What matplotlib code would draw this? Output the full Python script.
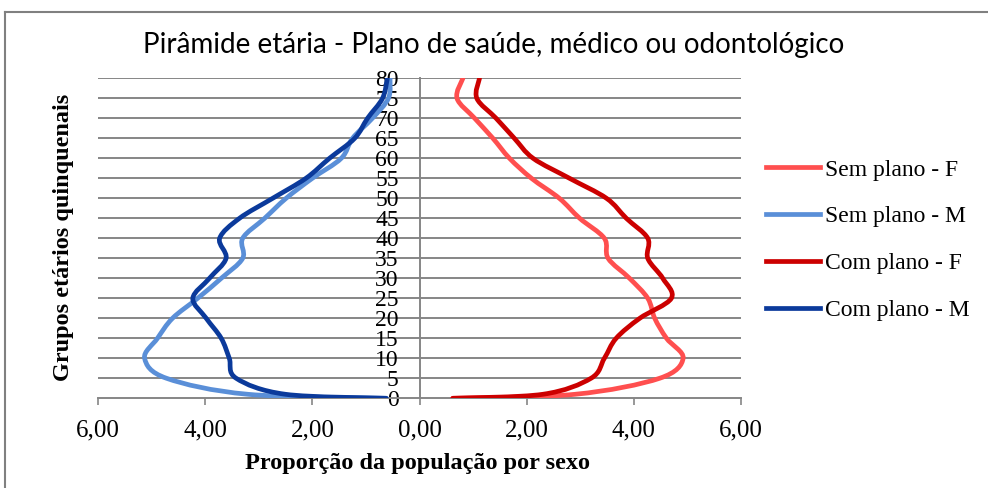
import matplotlib
matplotlib.use("Agg")
import matplotlib.pyplot as plt
from matplotlib.path import Path
from matplotlib.patches import PathPatch
from matplotlib.lines import Line2D

# grupos etarios (menor de 1 ano, 1 a 4 anos, depois quinquenais)
idades = [0, 1, 5, 10, 15, 20, 25, 30, 35, 40, 45, 50, 55, 60, 65, 70, 75, 80]

# proporcao da populacao por sexo (%)
sem_plano_f = [0.62, 2.90, 4.48, 4.92, 4.61, 4.39, 4.26, 3.92, 3.52, 3.45, 2.99, 2.61, 2.09, 1.68, 1.37, 1.03, 0.70, 0.81]
sem_plano_m = [0.62, 3.20, 4.72, 5.13, 4.89, 4.61, 4.14, 3.70, 3.30, 3.30, 2.89, 2.49, 2.00, 1.46, 1.25, 0.88, 0.58, 0.55]
com_plano_f = [0.62, 2.30, 3.20, 3.45, 3.67, 4.11, 4.70, 4.54, 4.26, 4.26, 3.86, 3.49, 2.80, 2.12, 1.77, 1.43, 1.07, 1.12]
com_plano_m = [0.62, 2.50, 3.42, 3.55, 3.70, 3.98, 4.23, 3.92, 3.61, 3.73, 3.36, 2.74, 2.12, 1.68, 1.21, 0.97, 0.69, 0.60]

series = [
    ("Sem plano - F", sem_plano_f, 1, "#FF4F4F"),
    ("Sem plano - M", sem_plano_m, -1, "#5A8FD8"),
    ("Com plano - F", com_plano_f, 1, "#CC0000"),
    ("Com plano - M", com_plano_m, -1, "#0B3A9B"),
]

x_ticks = [-6, -4, -2, 0, 2, 4, 6]
x_labels = ["6,00", "4,00", "2,00", "0,00", "2,00", "4,00", "6,00"]
y_ticks = list(range(0, 81, 5))

serif = "Liberation Serif"


def smooth_path(xs, ys):
    # linha suavizada no estilo do Excel (bezier com tangentes de vizinhos)
    pts = list(zip(xs, ys))
    n = len(pts)
    verts = [pts[0]]
    codes = [Path.MOVETO]
    for i in range(n - 1):
        p0 = pts[i - 1] if i > 0 else pts[i]
        p1 = pts[i]
        p2 = pts[i + 1]
        p3 = pts[i + 2] if i + 2 < n else pts[i + 1]
        b1 = (p1[0] + (p2[0] - p0[0]) / 6, p1[1] + (p2[1] - p0[1]) / 6)
        b2 = (p2[0] - (p3[0] - p1[0]) / 6, p2[1] - (p3[1] - p1[1]) / 6)
        verts += [b1, b2, p2]
        codes += [Path.CURVE4] * 3
    return Path(verts, codes)


fig = plt.figure(figsize=(9.88, 4.88), dpi=100)
ax = fig.add_axes([98 / 988, 1 - 398.3 / 488, 643 / 988, 320 / 488])

grid_c = "#868686"
for y in y_ticks[1:]:
    ax.axhline(y, color=grid_c, lw=1.4, zorder=1)

handles = []
for nome, vals, lado, cor in series:
    xs = [lado * v for v in vals]
    patch = PathPatch(smooth_path(xs, idades), fill=False, edgecolor=cor, lw=3.4,
                      capstyle="round", joinstyle="round", zorder=3)
    ax.add_patch(patch)
    handles.append(Line2D([], [], color=cor, lw=3.4, label=nome))

ax.set_xlim(-6, 6)
ax.set_ylim(0, 80)

for s in ["top", "right"]:
    ax.spines[s].set_visible(False)
ax.spines["left"].set_position(("data", 0))
ax.spines["left"].set_color(grid_c)
ax.spines["left"].set_linewidth(1.4)
ax.spines["bottom"].set_color(grid_c)
ax.spines["bottom"].set_linewidth(1.4)

ax.set_xticks(x_ticks)
ax.set_xticklabels(x_labels, fontfamily=serif, fontsize=18)
ax.tick_params(axis="x", length=5, width=1.2, color=grid_c, pad=10)
ax.set_yticks(y_ticks)
ax.set_yticklabels([str(v) for v in y_ticks], fontfamily=serif, fontsize=17)
ax.tick_params(axis="y", length=0, pad=15)

fig.text(0.5, 1 - 45 / 488, "Pirâmide etária - Plano de saúde, médico ou odontológico",
         ha="center", va="center", fontsize=20, fontfamily="Lato")
fig.text(417 / 988, 1 - 464 / 488, "Proporção da população por sexo",
         ha="center", va="center", fontsize=17.5, fontweight="bold", fontfamily=serif)
fig.text(63 / 988, 1 - 237 / 488, "Grupos etários quinquenais", rotation=90,
         ha="center", va="center", fontsize=17.5, fontweight="bold", fontfamily=serif)

fig.legend(handles=handles, loc="upper left", bbox_to_anchor=(766 / 988, 1 - 159 / 488),
           frameon=False, prop={"family": serif, "size": 17}, handlelength=2.3,
           handletextpad=0.2, labelspacing=1.07, borderpad=0, borderaxespad=0)

# moldura da area do grafico (apenas topo e esquerda visiveis)
fig.add_artist(Line2D([5 / 988, 5 / 988], [0, 1 - 12 / 488], color="#808080", lw=1.5))
fig.add_artist(Line2D([5 / 988, 1], [1 - 12 / 488, 1 - 12 / 488], color="#808080", lw=1.5))

fig.savefig("out.png", dpi=100)
